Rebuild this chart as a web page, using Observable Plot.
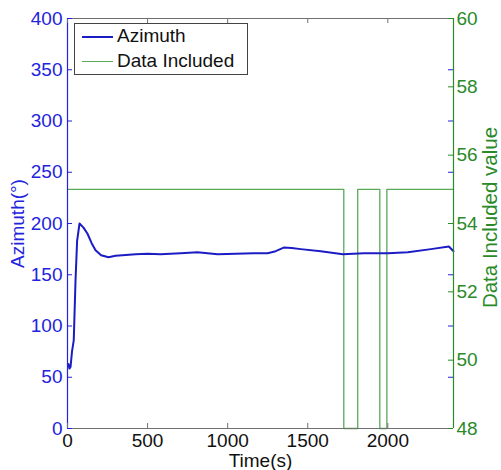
<!DOCTYPE html>
<html>
<head>
<meta charset="utf-8">
<script src="https://cdn.jsdelivr.net/npm/d3@7"></script>
<script src="https://cdn.jsdelivr.net/npm/@observablehq/plot@0.6"></script>
<style>
  body { margin: 0; background: #fff; }
  #wrap { position: relative; width: 501px; height: 470px; font-family: "Liberation Sans", Arial, sans-serif; }
  .legend { position: absolute; left: 74px; top: 23px; width: 172px; height: 50px; border: 1px solid #444; background: #fff; font-size: 19px; color: #111; }
  .legend .row { position: absolute; left: 0; height: 22px; width: 100%; }
  .legend .sw { position: absolute; left: 7px; width: 31px; top: 11px; }
  .legend .lb { position: absolute; left: 42px; top: 0; line-height: 22px; white-space: nowrap; }
</style>
</head>
<body>
<div id="wrap"></div>
<script>
// ---- data ----
const time = [6, 12, 19, 28, 39, 50, 60, 75, 100, 125, 150, 175, 210, 256, 300, 343, 425, 500, 581, 706, 812, 937, 1050, 1162, 1250, 1300, 1350, 1400, 1456, 1581, 1719, 1850, 2000, 2125, 2269, 2381, 2410];
const azimuth = [63, 58.5, 60, 75, 86, 144, 183, 200, 196, 190, 181, 174, 169, 167, 168.5, 169, 170, 170.5, 170, 171, 172, 170, 170.5, 171, 171, 173, 176.5, 176, 175, 173, 170, 171, 171, 172, 175, 177.5, 173];
const includedTime = [0, 1725, 1812, 1950, 1994, 2410];
const includedValue = [55, 48, 55, 48, 55, 55];
const xTicks = [0, 500, 1000, 1500, 2000];
const leftTicks = [0, 50, 100, 150, 200, 250, 300, 350, 400];
const rightTicks = [48, 50, 52, 54, 56, 58, 60];
const xDomain = [0, 2410];
const leftDomain = [0, 400];
const rightDomain = [48, 60];

// ---- styling / layout ----
const W = 501, H = 470, mL = 67, mR = 48, mT = 18, mB = 42;
const fw = W - mL - mR, fh = H - mT - mB;
const blue = "#2323dd", blueLine = "#1c1cc4", green = "#2a8a2a", greenLine = "#5aaa5a", boxGray = "#707070";
const toLeft = v => (v - rightDomain[0]) / (rightDomain[1] - rightDomain[0]) * (leftDomain[1] - leftDomain[0]) + leftDomain[0];
const fromLeft = a => Math.round((a - leftDomain[0]) / (leftDomain[1] - leftDomain[0]) * (rightDomain[1] - rightDomain[0]) + rightDomain[0]);

const azData = time.map((t, i) => ({t, a: azimuth[i]}));
const incData = includedTime.map((t, i) => ({t, a: toLeft(includedValue[i])}));
const rightMapped = rightTicks.map(toLeft);

const chart = Plot.plot({
  width: W, height: H,
  marginLeft: mL, marginRight: mR, marginTop: mT, marginBottom: mB,
  style: { fontFamily: "'Liberation Sans', Arial, sans-serif", fontSize: "19px", background: "white", overflow: "visible" },
  x: { domain: xDomain, axis: null },
  y: { domain: leftDomain, axis: null },
  marks: [
    // data
    Plot.line(incData, { x: "t", y: "a", curve: "step-after", stroke: greenLine, strokeWidth: 1.3 }),
    Plot.line(azData, { x: "t", y: "a", stroke: blueLine, strokeWidth: 2 }),
    // box
    Plot.ruleY([leftDomain[1]], { stroke: boxGray }),
    Plot.ruleY([leftDomain[0]], { stroke: boxGray }),
    Plot.ruleX([xDomain[0]], { stroke: blue, strokeWidth: 1.2 }),
    Plot.ruleX([xDomain[1]], { stroke: green, strokeWidth: 1.2 }),
    // inward ticks
    Plot.tickX(xTicks, { x: d => d, stroke: boxGray, insetTop: fh - 5 }),
    Plot.tickX(xTicks, { x: d => d, stroke: boxGray, insetBottom: fh - 5 }),
    Plot.tickY(leftTicks, { y: d => d, stroke: blue, insetRight: fw - 5 }),
    Plot.tickY(leftTicks, { y: d => d, stroke: blue, insetLeft: fw - 5 }),
    Plot.tickY(rightMapped, { y: d => d, stroke: green, insetLeft: fw - 5 }),
    // axes labels
    Plot.axisX(xTicks, { tickSize: 0, tickPadding: 5, color: "#111", label: null, fontSize: 19, tickFormat: d => String(d) }),
    Plot.axisY(leftTicks, { anchor: "left", tickSize: 0, tickPadding: 5, color: blue, label: null, fontSize: 19, tickFormat: d => String(d) }),
    Plot.axisY(rightMapped, { anchor: "right", tickSize: 0, tickPadding: 3, color: green, label: null, fontSize: 19, tickFormat: fromLeft }),
    // titles
    Plot.text(["Azimuth(°)"], { text: d => d, frameAnchor: "left", dx: -50, rotate: -90, textAnchor: "middle", lineAnchor: "middle", fill: blue, fontSize: 19 }),
    Plot.text(["Data Included value"], { text: d => d, frameAnchor: "right", dx: 37, dy: -6, rotate: -90, textAnchor: "middle", lineAnchor: "middle", fill: green, fontSize: 20.5 }),
    Plot.text(["Time(s)"], { text: d => d, frameAnchor: "bottom", dy: 32, textAnchor: "middle", lineAnchor: "middle", fill: "#111", fontSize: 19 })
  ]
});

const wrap = document.getElementById("wrap");
wrap.appendChild(chart);

// legend
const legendItems = [
  { name: "Azimuth", color: blueLine, width: 2 },
  { name: "Data Included", color: greenLine, width: 1.3 }
];
const legend = document.createElement("div");
legend.className = "legend";
legendItems.forEach((it, i) => {
  const row = document.createElement("div");
  row.className = "row";
  row.style.top = (1 + i * 25) + "px";
  const sw = document.createElement("div");
  sw.className = "sw";
  sw.style.borderTop = it.width + "px solid " + it.color;
  const lb = document.createElement("div");
  lb.className = "lb";
  lb.textContent = it.name;
  row.appendChild(sw); row.appendChild(lb);
  legend.appendChild(row);
});
wrap.appendChild(legend);
</script>
</body>
</html>
